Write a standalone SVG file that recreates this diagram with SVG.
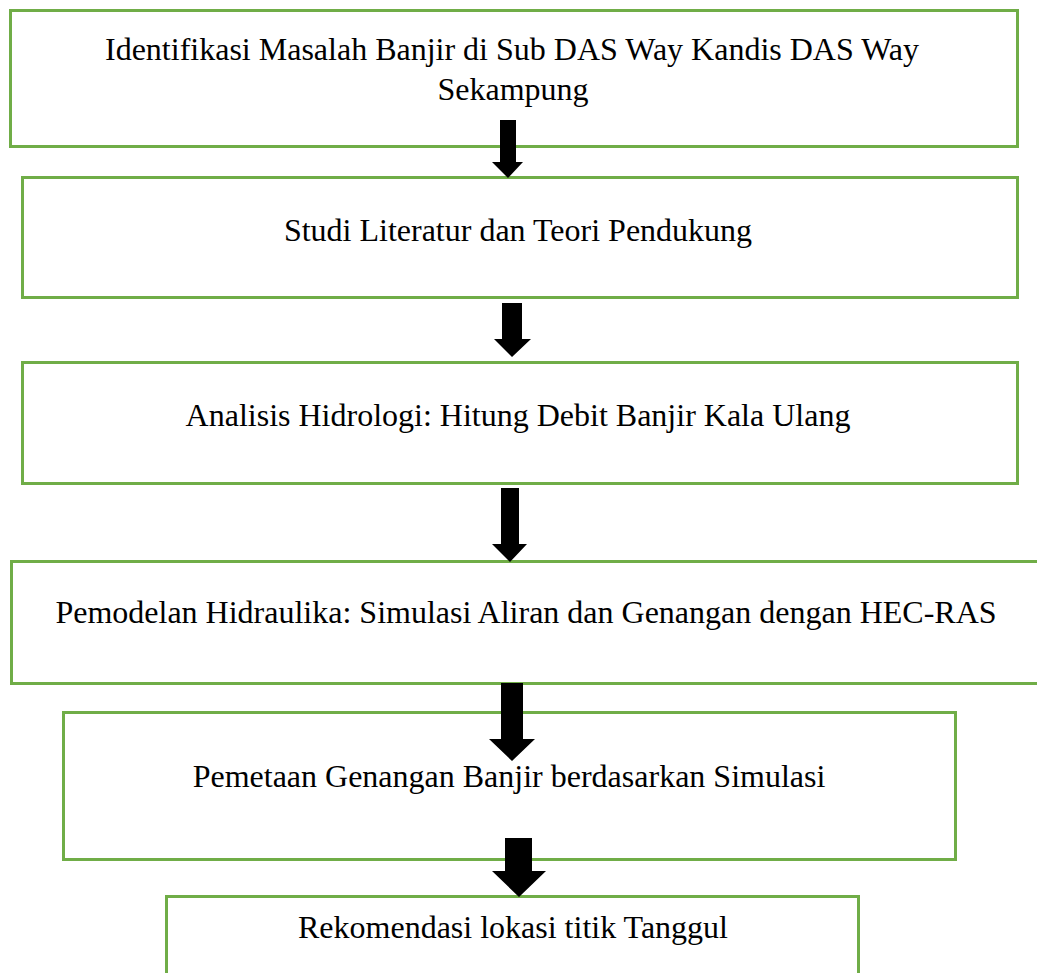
<svg xmlns="http://www.w3.org/2000/svg" width="1037" height="973" viewBox="0 0 1037 973">
<style>
.box{fill:#fff;stroke:#70AD47;stroke-width:3}
.t{font-family:"Liberation Serif","Times New Roman",serif;font-size:32px;fill:#000;text-anchor:middle}
.arr{fill:#000}
</style>
<rect width="1037" height="973" fill="#fff"/>
<g id="n1"><rect class="box" x="10.5" y="10.5" width="1007" height="136"/><text class="t" x="512" y="60">Identifikasi Masalah Banjir di Sub DAS Way Kandis DAS Way</text><text class="t" x="513" y="100">Sekampung</text></g>
<g id="n2"><rect class="box" x="22.5" y="177.5" width="995" height="120"/><text class="t" x="518" y="241">Studi Literatur dan Teori Pendukung</text></g>
<g id="n3"><rect class="box" x="22.5" y="362.5" width="995" height="121"/><text class="t" x="518" y="426">Analisis Hidrologi: Hitung Debit Banjir Kala Ulang</text></g>
<g id="n4"><rect class="box" x="11.5" y="561.5" width="1030" height="122"/><text class="t" x="526" y="623">Pemodelan Hidraulika: Simulasi Aliran dan Genangan dengan HEC-RAS</text></g>
<g id="n5"><rect class="box" x="63.5" y="712.5" width="892" height="147"/><text class="t" x="509" y="787">Pemetaan Genangan Banjir berdasarkan Simulasi</text></g>
<g id="n6"><rect class="box" x="166.5" y="896.5" width="692" height="90"/><text class="t" x="513" y="938">Rekomendasi lokasi titik Tanggul</text></g>
<g id="connectors">
<polygon class="arr" points="500,120 516,120 516,162 523,162 508,178 492,162 500,162"/>
<polygon class="arr" points="502,303 522,303 522,339 531,339 512,357 494,339 502,339"/>
<polygon class="arr" points="501,488 519,488 519,544 527,544 510,562 492,544 501,544"/>
<polygon class="arr" points="501,683 523,683 523,739 535,739 512,761 489,739 501,739"/>
<polygon class="arr" points="505,838 532,838 532,871 546,871 519,897 492,871 505,871"/>
</g>
</svg>
